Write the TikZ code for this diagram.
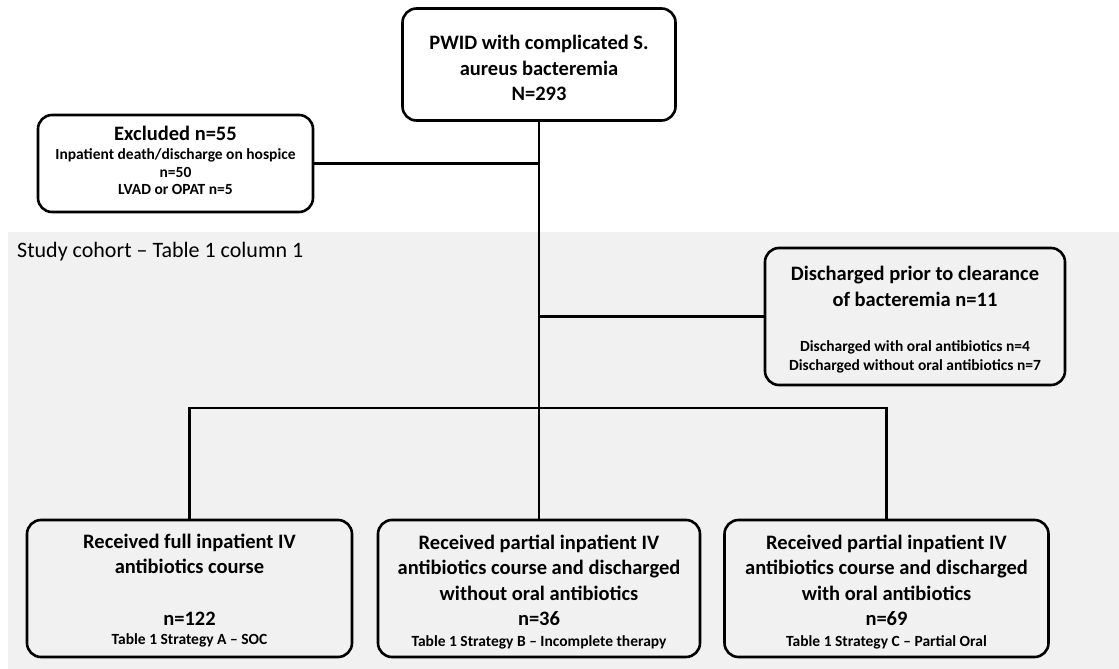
\documentclass[tikz,border=0pt]{standalone}
\usepackage{fontspec}
\setmainfont{Carlito}
\definecolor{bandgray}{HTML}{F1F1F1}
\newcommand\smfnt{\fontsize{15.5}{17}\selectfont}
\begin{document}
\begin{tikzpicture}[x=1pt,y=-1pt,
  box/.style={draw, line width=2.6pt, rounded corners=14pt, align=center,
    font=\bfseries\fontsize{20.5}{25.5}\selectfont, inner sep=0pt, fill=white},
  gbox/.style={box, fill=bandgray},
  conn/.style={line width=2.6pt}]
\useasboundingbox (0,0) rectangle (1119,669);
\fill[bandgray] (8,232) rectangle (1119,669);
\node[anchor=west, font=\fontsize{22}{26}\selectfont, inner sep=0pt] (lbl) at (17,252) {Study cohort -- Table 1 column 1};

\node[box, minimum width=273pt, minimum height=112pt] (top) at (539,64.5)
  {\rule{0pt}{22pt}PWID with complicated S.\\aureus bacteremia\\N=293};
\node[box, minimum width=275pt, minimum height=97pt] (exc) at (175.5,163.5)
  {Excluded n=55\\[-6pt]{\smfnt Inpatient death/discharge on hospice}\\[-8pt]{\smfnt n=50}\\[-8pt]{\smfnt LVAD or OPAT n=5}\rule[-6pt]{0pt}{6pt}};
\node[gbox, minimum width=300pt, minimum height=137pt] (dis) at (915,316.5)
  {\rule{0pt}{20.5pt}Discharged prior to clearance\\of bacteremia n=11\\[20pt]{\smfnt Discharged with oral antibiotics n=4}\\[-7pt]{\smfnt Discharged without oral antibiotics n=7}};

\node[gbox, minimum width=325pt, minimum height=137pt] (b1) at (189.5,588.5)
  {\rule{0pt}{19pt}Received full inpatient IV\\antibiotics course\\[26pt]n=122\\[-6pt]{\smfnt Table 1 Strategy A -- SOC}};
\node[gbox, minimum width=322pt, minimum height=137pt] (b2) at (539,588.5)
  {\rule{0pt}{21pt}Received partial inpatient IV\\antibiotics course and discharged\\without oral antibiotics\\n=36\\[-5pt]{\smfnt Table 1 Strategy B -- Incomplete therapy}};
\node[gbox, minimum width=324pt, minimum height=137pt] (b3) at (886.5,588.5)
  {\rule{0pt}{21pt}Received partial inpatient IV\\antibiotics course and discharged\\with oral antibiotics\\n=69\\[-5pt]{\smfnt Table 1 Strategy C -- Partial Oral}};

\coordinate (split) at (539,408);
\draw[conn] (top.south) -- (b2.north);
\draw[conn] (exc.east) -- (exc.east -| top.south);
\draw[conn] (dis.west) -- (dis.west -| top.south);
\draw[conn] (b1.north) -- (b1.north |- split) -- (b3.north |- split) -- (b3.north);
\end{tikzpicture}
\end{document}
